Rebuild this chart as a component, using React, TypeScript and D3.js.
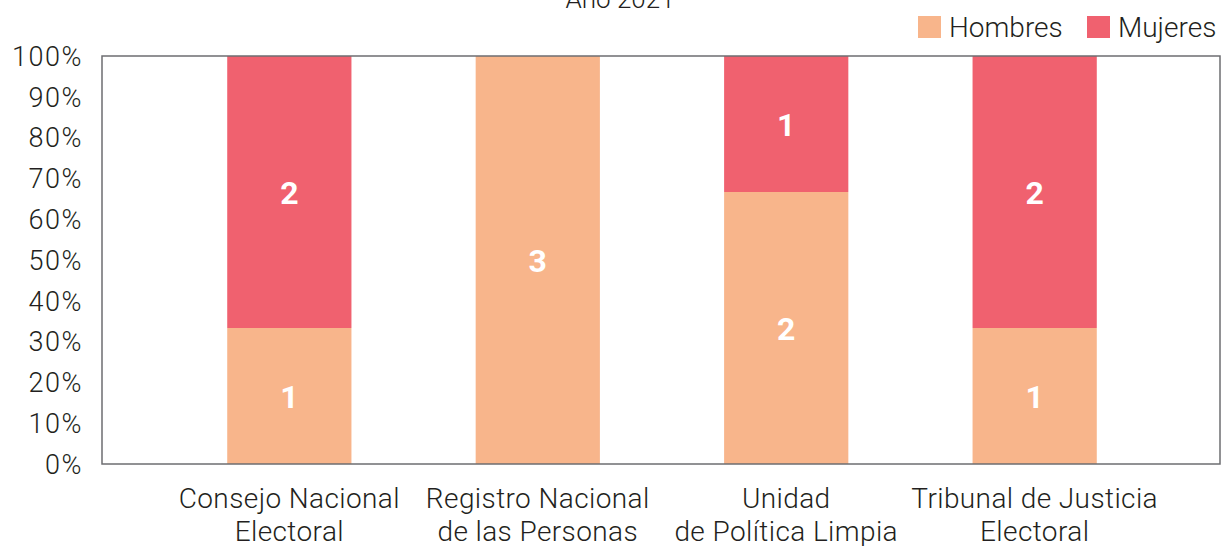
import { useEffect, useRef } from 'react';
import * as d3 from 'd3';

const categories = [
  ['Consejo Nacional', 'Electoral'],
  ['Registro Nacional', 'de las Personas'],
  ['Unidad', 'de Política Limpia'],
  ['Tribunal de Justicia', 'Electoral'],
];
const hombres = [1, 3, 2, 1];
const mujeres = [2, 0, 1, 2];
const seriesNames = ['Hombres', 'Mujeres'];
const seriesColors = ['#f8b58b', '#f0616f'];
const yTicks = [0, 10, 20, 30, 40, 50, 60, 70, 80, 90, 100];

export default function App() {
  const svgRef = useRef<SVGSVGElement>(null);

  useEffect(() => {
    const width = 1225;
    const height = 546;
    const margin = { top: 56, right: 5, bottom: 82, left: 102 };
    const font = 'Roboto, sans-serif';
    const textColor = '#231f20';

    const svg = d3.select(svgRef.current);
    svg.selectAll('*').remove();
    svg.attr('width', width).attr('height', height);

    const rows = categories.map((c, i) => {
      const total = hombres[i] + mujeres[i];
      return { key: i, Hombres: hombres[i] / total, Mujeres: mujeres[i] / total, h: hombres[i], m: mujeres[i] };
    });

    const x = d3
      .scaleBand<number>()
      .domain(rows.map((d) => d.key))
      .range([margin.left, width - margin.right])
      .paddingInner(0.5)
      .paddingOuter(0.5);

    const y = d3.scaleLinear().domain([0, 1]).range([height - margin.bottom, margin.top]);

    const stack = d3.stack<any>().keys(seriesNames);
    const stacked = stack(rows);

    // Bars
    stacked.forEach((layer, li) => {
      svg
        .append('g')
        .selectAll('rect')
        .data(layer)
        .enter()
        .append('rect')
        .attr('x', (d: any) => x(d.data.key)! + 1)
        .attr('width', x.bandwidth())
        .attr('y', (d) => y(d[1]))
        .attr('height', (d) => y(d[0]) - y(d[1]))
        .attr('fill', seriesColors[li]);

      svg
        .append('g')
        .selectAll('text')
        .data(layer.filter((d) => d[1] - d[0] > 0))
        .enter()
        .append('text')
        .attr('x', (d: any) => x(d.data.key)! + 1 + x.bandwidth() / 2)
        .attr('y', (d) => (y(d[0]) + y(d[1])) / 2)
        .attr('dy', '0.36em')
        .attr('text-anchor', 'middle')
        .style('font-family', font)
        .style('font-size', '32px')
        .style('font-weight', 'bold')
        .style('fill', 'white')
        .text((d: any) => (li === 0 ? d.data.h : d.data.m));
    });

    // Frame
    svg
      .append('rect')
      .attr('x', margin.left)
      .attr('y', margin.top)
      .attr('width', width - margin.left - margin.right)
      .attr('height', height - margin.top - margin.bottom)
      .attr('fill', 'none')
      .attr('stroke', '#6d6e71')
      .attr('stroke-width', 1.5);

    // Y axis labels
    svg
      .append('g')
      .selectAll('text')
      .data(yTicks)
      .enter()
      .append('text')
      .attr('x', 83)
      .attr('y', (d) => y(d / 100))
      .attr('dy', '0.36em')
      .attr('text-anchor', 'end')
      .style('font-family', font)
      .style('font-size', '27px')
      .style('letter-spacing', '1.5px')
      .style('font-weight', 300)
      .style('fill', textColor)
      .text((d) => `${d}%`);

    // X labels
    const xl = svg
      .append('g')
      .selectAll('text')
      .data(categories)
      .enter()
      .append('text')
      .attr('x', (d, i) => x(i)! + 1 + x.bandwidth() / 2)
      .attr('y', 508)
      .attr('text-anchor', 'middle')
      .style('font-family', font)
      .style('font-size', '28px')
      .style('letter-spacing', '0.4px')
      .style('font-weight', 300)
      .style('fill', textColor);
    xl.append('tspan').text((d) => d[0]);
    xl.append('tspan')
      .attr('x', (d, i) => x(i)! + 1 + x.bandwidth() / 2)
      .attr('dy', 33)
      .text((d) => d[1]);

    // Title
    svg
      .append('text')
      .attr('x', 620)
      .attr('y', 8)
      .attr('text-anchor', 'middle')
      .style('font-family', font)
      .style('font-size', '26px')
      .style('font-weight', 300)
      .style('fill', textColor)
      .text('Año 2021');

    // Legend
    const legendX = [918, 1087];
    const lg = svg
      .append('g')
      .selectAll('g')
      .data(seriesNames)
      .enter()
      .append('g')
      .attr('transform', (d, i) => `translate(${legendX[i]},16)`);
    lg.append('rect')
      .attr('width', 23)
      .attr('height', 22)
      .attr('fill', (d, i) => seriesColors[i]);
    lg.append('text')
      .attr('x', 31)
      .attr('y', 11)
      .attr('dy', '0.36em')
      .style('font-family', font)
      .style('font-size', '28px')
      .style('font-weight', 300)
      .style('fill', textColor)
      .text((d) => d);
  }, []);

  return <svg ref={svgRef} style={{ position: 'absolute', left: 0, top: 0 }}></svg>;
}
